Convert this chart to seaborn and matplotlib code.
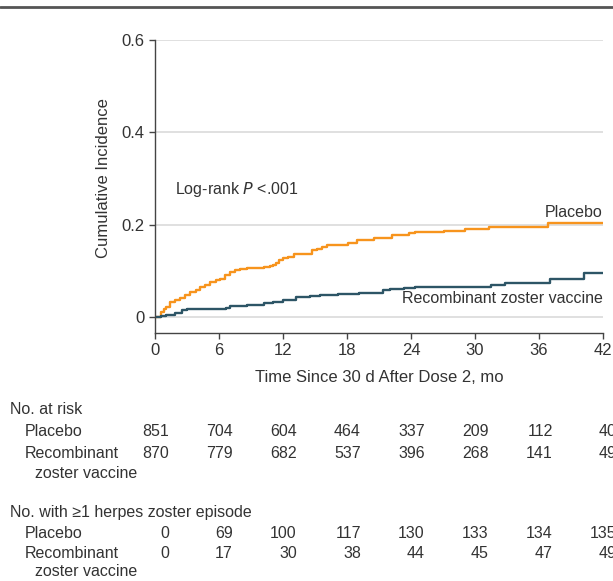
import numpy as np
import pandas as pd
import seaborn as sns
import matplotlib.pyplot as plt
from matplotlib.transforms import blended_transform_factory

# step points (months, cumulative incidence)
placebo_t = [0, 0.6, 0.8, 1.0, 1.4, 1.9, 2.3, 2.8, 3.3, 3.8, 4.2, 4.7, 5.2, 5.7, 6.1, 6.6, 7.0, 7.5, 8.0, 8.6, 10.2, 10.8, 11.1, 11.3, 11.6, 12.0, 12.5, 13.0, 14.7, 15.2, 15.7, 16.1, 18.1, 18.9, 20.5, 22.2, 23.8, 24.4, 27.1, 29.1, 31.3, 36.8, 42]
placebo_y = [0, 0.010, 0.016, 0.021, 0.032, 0.036, 0.040, 0.047, 0.054, 0.059, 0.065, 0.070, 0.076, 0.080, 0.083, 0.090, 0.097, 0.101, 0.104, 0.106, 0.108, 0.110, 0.112, 0.117, 0.123, 0.127, 0.130, 0.136, 0.145, 0.148, 0.152, 0.155, 0.160, 0.166, 0.170, 0.177, 0.182, 0.184, 0.187, 0.190, 0.194, 0.203, 0.203]
vaccine_t = [0, 0.6, 1.0, 1.9, 2.5, 3.0, 6.7, 7.0, 8.6, 10.2, 11.1, 12.0, 13.2, 14.5, 15.5, 17.2, 19.1, 21.4, 22.0, 23.3, 24.4, 31.5, 32.8, 37.0, 40.2, 42]
vaccine_y = [0, 0.002, 0.005, 0.008, 0.014, 0.016, 0.020, 0.023, 0.025, 0.029, 0.032, 0.037, 0.042, 0.045, 0.047, 0.049, 0.052, 0.058, 0.061, 0.063, 0.065, 0.068, 0.073, 0.081, 0.095, 0.095]

groups = ['Placebo', 'Recombinant zoster vaccine']
colors = ['#F7941D', '#2D5566']

months = [0, 6, 12, 18, 24, 30, 36, 42]
risk_placebo = [851, 704, 604, 464, 337, 209, 112, 40]
risk_vaccine = [870, 779, 682, 537, 396, 268, 141, 49]
events_placebo = [0, 69, 100, 117, 130, 133, 134, 135]
events_vaccine = [0, 17, 30, 38, 44, 45, 47, 49]

df = pd.concat([
    pd.DataFrame({'t': placebo_t, 'ci': placebo_y, 'group': groups[0]}),
    pd.DataFrame({'t': vaccine_t, 'ci': vaccine_y, 'group': groups[1]}),
])

sns.set_style('white')
plt.rcParams['font.family'] = ['Liberation Sans', 'DejaVu Sans']
txt = '#333333'

fig = plt.figure(figsize=(6.13, 5.81), dpi=100)
ax = fig.add_axes([155/613, 1-333/581, 448/613, 293/581])

for y in [0, 0.2, 0.4, 0.6]:
    ax.axhline(y, color='#dddddd', lw=1.3, zorder=0)

sns.lineplot(data=df, x='t', y='ci', hue='group', palette=colors, estimator=None,
             drawstyle='steps-post', lw=1.7, legend=False, ax=ax)

ax.set_xlim(0, 42)
ax.set_ylim(-0.035, 0.6)
ax.set_xticks(months)
ax.set_yticks([0, 0.2, 0.4, 0.6])
ax.set_yticklabels(['0', '0.2', '0.4', '0.6'])
ax.tick_params(axis='both', direction='out', length=4, width=1, color='#444444',
               labelsize=12, labelcolor=txt, left=True, bottom=True)
for s in ['top', 'right']:
    ax.spines[s].set_visible(False)
for s in ['left', 'bottom']:
    ax.spines[s].set_color('#444444')
    ax.spines[s].set_linewidth(1)
ax.set_xlabel('Time Since 30 d After Dose 2, mo', fontsize=12, color=txt, labelpad=8)
ax.set_ylabel('Cumulative Incidence', fontsize=12, color=txt)
ax.yaxis.set_label_coords(-0.098, 0.53)

ax.text(1.9, 0.275, 'Log-rank $\\it{P}$ <.001', fontsize=11.5, color=txt, va='center')
ax.text(42, 0.227, 'Placebo', fontsize=11.5, color=txt, ha='right', va='center')
ax.text(42, 0.04, 'Recombinant zoster vaccine', fontsize=11.5, color=txt, ha='right', va='center')

# top rule
fig.add_artist(plt.Line2D([0, 1], [1-7/581, 1-7/581], color='#555555', lw=2))

# table below the plot
tr = blended_transform_factory(ax.transData, fig.transFigure)
def fy(p):
    return 1 - p/581

fs = 11.5
fig.text(10/613, fy(410), 'No. at risk', fontsize=fs, color=txt, va='center')
fig.text(25/613, fy(432), 'Placebo', fontsize=fs, color=txt, va='center')
fig.text(25/613, fy(454), 'Recombinant', fontsize=fs, color=txt, va='center')
fig.text(35/613, fy(474), 'zoster vaccine', fontsize=fs, color=txt, va='center')
fig.text(10/613, fy(513), 'No. with \u22651 herpes zoster episode', fontsize=fs, color=txt, va='center')
fig.text(25/613, fy(534), 'Placebo', fontsize=fs, color=txt, va='center')
fig.text(25/613, fy(553), 'Recombinant', fontsize=fs, color=txt, va='center')
fig.text(35/613, fy(571), 'zoster vaccine', fontsize=fs, color=txt, va='center')

rows = [(risk_placebo, 432), (risk_vaccine, 454), (events_placebo, 534), (events_vaccine, 553)]
for vals, py in rows:
    for m, v in zip(months, vals):
        ax.text(m + 1.3, fy(py), str(v), transform=tr, fontsize=fs, color=txt,
                ha='right', va='center', clip_on=False)

fig.savefig('out.png', dpi=100)
